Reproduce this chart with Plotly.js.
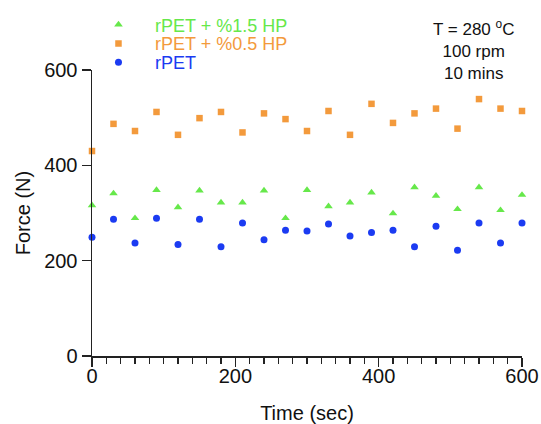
<!DOCTYPE html>
<html>
<head>
<meta charset="utf-8">
<script src="https://cdn.plot.ly/plotly-3.0.1.min.js"></script>
<style>html,body{margin:0;padding:0;background:#fff;}#chart{width:541px;height:424px;}</style>
</head>
<body>
<div id="chart"></div>
<script>
var time = [0,30,60,90,120,150,180,210,240,270,300,330,360,390,420,450,480,510,540,570,600];
var hp15 = [316,341,289,348,312,347,322,322,347,289,348,314,322,343,299,354,336,308,354,306,338];
var hp05 = [430,487,472,512,464,499,512,469,509,497,472,514,464,529,489,509,519,477,539,519,514];
var rpet = [249,287,237,289,234,287,229,279,244,264,262,277,252,259,264,229,272,222,279,237,279];
var seriesNames = ['rPET + %1.5 HP','rPET + %0.5 HP','rPET'];
var xTicks = [0,200,400,600];
var yTicks = [0,200,400,600];

var cGreen = '#66e84a', cOrange = '#f39a3c', cBlue = '#1b3bf2';
var FONT = 'Liberation Sans, Arial, Helvetica, sans-serif';

var traces = [
  {x: time, y: hp15, name: seriesNames[0], type: 'scatter', mode: 'markers', cliponaxis: false,
   marker: {symbol: 'triangle-up', size: 7.5, color: cGreen}, legend: 'legend'},
  {x: time, y: hp05, name: seriesNames[1], type: 'scatter', mode: 'markers', cliponaxis: false,
   marker: {symbol: 'square', size: 6.5, color: cOrange}, legend: 'legend2'},
  {x: time, y: rpet, name: seriesNames[2], type: 'scatter', mode: 'markers', cliponaxis: false,
   marker: {symbol: 'circle', size: 7, color: cBlue}, legend: 'legend3'}
];

function leg(y, color) {
  return {x: -0.0233, y: y, xanchor: 'left', yanchor: 'middle', bgcolor: 'rgba(0,0,0,0)',
          borderwidth: 0, itemwidth: 63, font: {family: FONT, size: 18, color: color}};
}

var layout = {
  width: 541, height: 424,
  margin: {l: 92, r: 19, t: 70, b: 68, autoexpand: false},
  paper_bgcolor: '#fff', plot_bgcolor: '#fff',
  font: {family: FONT, color: '#111'},
  showlegend: true,
  legend: leg(1.158, cGreen),
  legend2: leg(1.092, cOrange),
  legend3: leg(1.026, cBlue),
  xaxis: {
    range: [0, 600], tickvals: xTicks, ticktext: xTicks.map(String),
    showgrid: false, zeroline: false, showline: true, linecolor: '#222', linewidth: 1.5,
    ticks: 'outside', ticklen: 9, tickwidth: 1.5, tickcolor: '#222', ticklabelstandoff: -8,
    minor: {dtick: 20, ticks: 'outside', ticklen: 6, tickwidth: 1.2, tickcolor: '#222', showgrid: false},
    tickfont: {family: FONT, size: 20, color: '#111'},
    title: {text: 'Time (sec)', font: {family: FONT, size: 20, color: '#111'}, standoff: 22}
  },
  yaxis: {
    range: [0, 600], tickvals: yTicks, ticktext: yTicks.map(String),
    showgrid: false, zeroline: false, showline: true, linecolor: '#222', linewidth: 1.5,
    ticks: 'outside', ticklen: 9, tickwidth: 1.5, tickcolor: '#222',
    tickfont: {family: FONT, size: 20, color: '#111'},
    title: {text: 'Force (N)', font: {family: FONT, size: 20, color: '#111'}, standoff: 8}
  },
  annotations: [{
    xref: 'paper', yref: 'paper', x: 0.887, y: 1.193, xanchor: 'center', yanchor: 'top',
    showarrow: false, align: 'center',
    text: 'T = 280 <sup>o</sup>C<br>100 rpm<br>10 mins',
    font: {family: FONT, size: 17, color: '#111'}
  }]
};

Plotly.newPlot('chart', traces, layout, {displayModeBar: false, staticPlot: true});
</script>
</body>
</html>
